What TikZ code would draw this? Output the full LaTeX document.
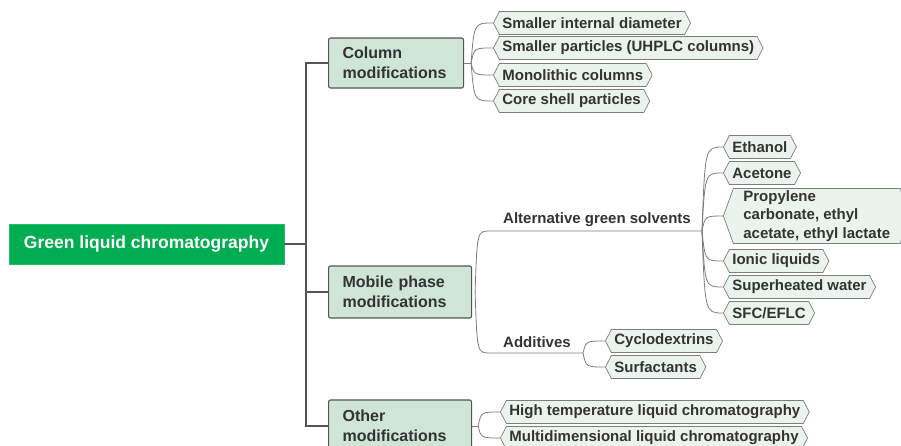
\documentclass[tikz,border=0pt]{standalone}
\usepackage{fontspec}
\setmainfont{Liberation Sans}
\usetikzlibrary{shapes.symbols,calc}
\definecolor{leafgreen}{RGB}{0,173,80}
\definecolor{boxgreen}{RGB}{207,229,213}
\definecolor{tagfill}{RGB}{234,243,236}
\definecolor{inkgray}{RGB}{51,51,51}
\definecolor{wiregray}{RGB}{125,125,125}
\definecolor{trunkgray}{RGB}{85,85,85}

\begin{document}
\begin{tikzpicture}[x=1pt,y=-1pt,
 every node/.style={font=\bfseries\fontsize{15}{18.5}\selectfont,text=inkgray},
 rootbox/.style={fill=leafgreen,draw=leafgreen!85!white,text=white,
                 minimum width=275pt,minimum height=40pt,
                 font=\bfseries\fontsize{17.5}{21}\selectfont},
 mainbox/.style={draw=trunkgray,line width=1.1pt,rounded corners=2pt,fill=boxgreen,
                 align=left,inner xsep=14pt,text width=#1,minimum height=50pt,
                 font=\bfseries\fontsize{16}{20}\selectfont},
 tag/.style={signal,signal to=west and east,signal pointer angle=125,
             draw=wiregray,fill=tagfill,line width=0.7pt,minimum height=23pt,
             inner xsep=3pt,inner ysep=2pt,align=left,anchor=west},
 trunk/.style={draw=trunkgray,line width=2pt},
 branch/.style={draw=wiregray,line width=0.8pt}]
 \useasboundingbox (0,0) rectangle (901,446);
 \clip (0,0) rectangle (901,446);
 % root and the three groups
 \node[rootbox] (glc) at (146.5,244) {Green liquid chromatography};
 \node[mainbox=107pt,anchor=west] (colmod) at (328,63) {Column\\modifications};
 \node[mainbox=115pt,anchor=west,minimum height=52pt] (mobmod) at (328,292) {Mobile phase\\modifications};
 \node[mainbox=115pt,anchor=west,minimum height=52pt] (othmod) at (328,426) {Other\\modifications};
 \coordinate (rj) at (306,244);
 \draw[trunk] (glc.east) -- (rj);
 \draw[trunk] (colmod.west) -| (rj) |- (othmod.west);
 \draw[trunk] (mobmod.west) -- (rj |- mobmod.west);

 % column modifications
 \node[tag] (diam) at (493,23) {Smaller internal diameter};
 \node[tag] (part) at (493,48) {Smaller particles (UHPLC columns)};
 \node[tag] (mono) at (493,75) {Monolithic columns};
 \node[tag] (core) at (493,101) {Core shell particles};
 \coordinate (colfan) at ($(colmod.east)+(7,0)$);
 \draw[branch] (colmod.east) -- (colfan);
 \foreach \c in {diam,part,mono,core}
   \draw[branch] (colfan) .. controls ($(colfan |- \c.west)+(3,0)$) .. (\c.west);

 % mobile phase modifications
 \node[anchor=base west,inner sep=0pt] (solv) at (503,224) {Alternative green solvents};
 \node[anchor=base west,inner sep=0pt] (addv) at (503,347) {Additives};
 \coordinate (mobfan) at ($(mobmod.east)+(3,0)$);
 \coordinate (solvL) at (490,231);
 \coordinate (solvR) at (702,231);
 \coordinate (addL) at (490,353);
 \coordinate (addR) at (583,353);
 \draw[branch] (mobfan) .. controls ($(mobfan |- solvL)+(2,0)$) .. (solvL) -- (solvR);
 \draw[branch] (mobfan) .. controls ($(mobfan |- addL)+(2,0)$) .. (addL) -- (addR);

 \node[tag] (eth) at (723,147) {Ethanol};
 \node[tag] (acet) at (723,173) {Acetone};
 \node[tag,signal pointer angle=140,minimum height=55pt,inner xsep=10pt] (prop) at (723,216)
   {Propylene\\carbonate, ethyl\\acetate, ethyl lactate};
 \node[tag] (ionic) at (723,261) {Ionic liquids};
 \node[tag] (water) at (723,287) {Superheated water};
 \node[tag] (sfc) at (723,313) {SFC/EFLC};
 \foreach \c in {eth,acet,prop,ionic,water,sfc}
   \draw[branch] (solvR) .. controls ($(solvR |- \c.west)+(3,0)$) .. (\c.west);

 \node[tag] (cyclo) at (605,341) {Cyclodextrins};
 \node[tag] (surf) at (605,367) {Surfactants};
 \foreach \c in {cyclo,surf}
   \draw[branch] (addR) .. controls ($(addR |- \c.west)+(3,0)$) .. (\c.west);

 % other modifications
 \node[tag] (htlc) at (500,412) {High temperature liquid chromatography};
 \node[tag] (mdlc) at (500,438) {Multidimensional liquid chromatography};
 \coordinate (othfan) at ($(othmod.east)+(6,0)$);
 \draw[branch] (othmod.east) -- (othfan);
 \foreach \c in {htlc,mdlc}
   \draw[branch] (othfan) .. controls ($(othfan |- \c.west)+(3,0)$) .. (\c.west);
\end{tikzpicture}
\end{document}
